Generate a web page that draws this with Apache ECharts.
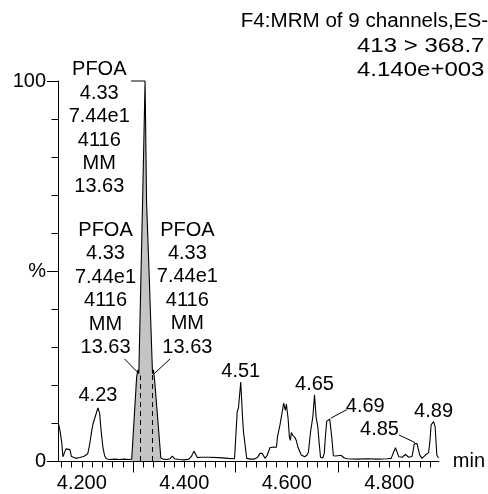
<!DOCTYPE html>
<html><head><meta charset="utf-8">
<script src="https://cdn.jsdelivr.net/npm/echarts@6/dist/echarts.min.js"></script>
<style>html,body{margin:0;padding:0;background:#fff}#c{width:488px;height:494px}</style>
</head><body><div id="c"></div>
<script>
// ---- data ----
const times = [4.1541,4.1574,4.1607,4.1632,4.1661,4.1690,4.1729,4.1768,4.1797,4.1826,4.1884,4.1961,4.2039,4.2077,4.2116,4.2135,4.2155,4.2194,4.2219,4.2252,4.2281,4.2315,4.2348,4.2377,4.2412,4.2445,4.2478,4.2542,4.2639,4.2735,4.2832,4.2929,4.2974,4.3070,4.3094,4.3113,4.3136,4.3186,4.3235,4.3264,4.3316,4.3380,4.3399,4.3423,4.3543,4.3587,4.3664,4.3723,4.3767,4.3810,4.3897,4.3993,4.4090,4.4139,4.4187,4.4226,4.4255,4.4322,4.4477,4.4671,4.4864,4.4981,4.4994,4.5033,4.5058,4.5102,4.5135,4.5155,4.5188,4.5219,4.5290,4.5368,4.5426,4.5478,4.5522,4.5575,4.5619,4.5671,4.5735,4.5774,4.5799,4.5819,4.5865,4.5896,4.5939,4.5973,4.5993,4.6026,4.6051,4.6070,4.6090,4.6113,4.6155,4.6186,4.6219,4.6283,4.6349,4.6393,4.6422,4.6465,4.6510,4.6542,4.6573,4.6606,4.6631,4.6659,4.6703,4.6732,4.6755,4.6780,4.6800,4.6839,4.6858,4.6877,4.6910,4.6955,4.6993,4.7057,4.7123,4.7187,4.7380,4.7574,4.7767,4.7961,4.8038,4.8091,4.8122,4.8155,4.8187,4.8251,4.8315,4.8381,4.8445,4.8470,4.8489,4.8542,4.8574,4.8594,4.8638,4.8702,4.8768,4.8793,4.8818,4.8865,4.8896,4.8929,4.8962];
const intensities = [10,8,5,1.1,1.0,3.2,3.4,3.0,1.2,0.8,0.7,0.9,1.2,1.6,1.9,1.5,4.5,8,9.8,10.2,12.5,14,12.6,8,3.6,1.4,0.6,0.4,0.5,0.4,0.5,0.4,0.5,22,24,23,22.5,68,100,68,48.5,23,24,21,0.8,0.5,0.4,0.6,1.3,0.6,0.4,0.3,0.5,1.2,2.6,2.2,0.9,1.0,1.0,0.9,0.7,0.6,0.8,13,14,20.8,12,7.7,7.5,0.7,0.5,0.5,0.9,2.0,2.0,0.7,1.5,3.5,3.7,3.9,3.6,6.4,9.3,11.7,15.2,13.3,15,11.2,6.4,5.4,7.5,6.8,6.3,5.4,3.6,1.6,1.1,1.5,2.3,7.7,11.7,17.4,11.5,9,5,1.0,0.8,2,6.5,10.5,10.8,11,10.5,6.5,1.4,1.3,1.1,1.5,0.8,0.6,0.5,0.6,0.5,0.6,0.7,2.5,3.5,3.4,1.1,1.0,1.7,1.0,1.2,3,4.5,4.6,4.5,1.6,0.7,1.5,2.2,5,9.5,10.4,9,1.6,0.8];

const integrationStart = 4.2974;
const integrationEnd = 4.3543;
const markerTimes = [4.3136, 4.3380];
const markerValues = [22.5, 23];

const peakLabelTimes = [4.2315, 4.5102, 4.6542, 4.6839, 4.8542, 4.8865];
const peakLabelValues = [14, 20.8, 17.4, 11, 4.6, 10.4];
const peakLabelTexts = ['4.23', '4.51', '4.65', '4.69', '4.85', '4.89'];

const stackAnchorTimes = [4.3235, 4.3113, 4.3416];
const stackAnchorValues = [100, 23, 23];
const stackLines = ['PFOA', '4.33', '7.44e1', '4116', 'MM', '13.63'];

const titleLines = ['F4:MRM of 9 channels,ES-', '413 > 368.7', '4.140e+003'];

const xMinorTicks = [4.16,4.18,4.20,4.22,4.24,4.26,4.28,4.30,4.32,4.34,4.36,4.38,4.40,4.42,4.44,4.46,4.48,4.50,4.52,4.54,4.56,4.58,4.60,4.62,4.64,4.66,4.68,4.70,4.72,4.74,4.76,4.78,4.80,4.82,4.84,4.86,4.88];
const xMajorTicks = [4.3, 4.5, 4.7];
const xLabelValues = [4.2, 4.4, 4.6, 4.8];
const yLabelValues = [0, 50, 100];
const yLabelTexts = ['0', '%', '100'];
const xRange = [4.15355, 4.8967];

// ---- styling / layout ----
const FONT = '"Liberation Sans", Arial, Helvetica, sans-serif';
const FS = 20;
const LH = 23.4;
const peakLabelOffsets = [[0,-12],[0,-10.4],[0,-10.3],[35.5,-12.5],[-37.5,-13.8],[0,-10.4]];
const peakLeaders = {3: [[1,-1],[17,-9.5]], 4: [[-2,-1],[-18,-8.5]]};
const stackOffsets = [[-45.8,47.3],[-33.3,-84.7],[33,-85]];
const stackLeaders = [[[-14,0],[0,0]], [[-14.3,-14.7],[0,0]], [[15.7,-14.7],[0,0]]];
// title line placement: [x, y(center), align, scaleX]
const titleLayout = [[488, 21, 'right', 1.03], [357, 46, 'left', 1.2], [357, 70, 'left', 1.2]];

const trace = times.map((t, i) => [t, intensities[i]]);
const peakArea = trace.filter(p => p[0] >= integrationStart && p[0] <= integrationEnd);

const chart = echarts.init(document.getElementById('c'), null, {renderer: 'canvas'});
const option = {
  animation: false,
  backgroundColor: '#fff',
  grid: {left: 58, right: 46, top: 81, bottom: 33},
  xAxis: [{
    type: 'value', min: xRange[0], max: xRange[1],
    axisLine: {show: true, lineStyle: {color: '#000', width: 1}},
    axisTick: {show: true, length: 6.5, customValues: xMinorTicks, lineStyle: {color: '#000', width: 1}},
    axisLabel: {show: true, customValues: xLabelValues, formatter: v => v.toFixed(3), fontSize: FS, fontFamily: FONT, color: '#000', margin: 12},
    splitLine: {show: false},
    name: 'min', nameLocation: 'end', nameGap: 14,
    nameTextStyle: {fontSize: FS, fontFamily: FONT, color: '#000', verticalAlign: 'middle', padding: [2, 0, 0, 0]}
  }, {
    type: 'value', min: xRange[0], max: xRange[1], position: 'bottom',
    axisLine: {show: false},
    axisTick: {show: true, length: 11.5, customValues: xMajorTicks, lineStyle: {color: '#000', width: 1}},
    axisLabel: {show: false}, splitLine: {show: false}
  }],
  yAxis: [{
    type: 'value', min: 0, max: 100, interval: 10, position: 'left',
    axisLine: {show: true, lineStyle: {color: '#000', width: 1}},
    axisTick: {show: true, length: 6.5, lineStyle: {color: '#000', width: 1}},
    axisLabel: {show: false}, splitLine: {show: false}
  }, {
    type: 'value', min: 0, max: 100, interval: 50, position: 'left', offset: 0,
    axisLine: {show: false},
    axisTick: {show: true, length: 11, lineStyle: {color: '#000', width: 1}},
    axisLabel: {show: true, fontSize: FS, fontFamily: FONT, color: '#000', margin: 12,
      formatter: v => yLabelTexts[yLabelValues.indexOf(v)]},
    splitLine: {show: false}
  }],
  series: [{
    type: 'line', data: peakArea, symbol: 'none', xAxisIndex: 0, yAxisIndex: 0,
    lineStyle: {width: 0}, areaStyle: {color: '#c4c4c4', opacity: 1}, z: 1, silent: true
  }, {
    type: 'line', data: trace, symbol: 'none', xAxisIndex: 0, yAxisIndex: 0,
    lineStyle: {color: '#000', width: 1.1}, z: 3, silent: true,
    markLine: {
      silent: true, symbol: ['none', 'none'], label: {show: false},
      lineStyle: {color: '#000', width: 1, type: [5, 4]},
      data: markerTimes.map((t, i) => [{coord: [t, 0]}, {coord: [t, markerValues[i]]}])
    }
  }]
};
chart.setOption(option);

function txt(x, y, text, align, sx) {
  return {type: 'text', x: x, y: y, scaleX: sx || 1, originX: 0, originY: 0, silent: true, z: 10,
    style: {text: text, fill: '#000', fontSize: FS, fontFamily: FONT, lineHeight: LH,
      align: align, textAlign: align, verticalAlign: 'middle', textVerticalAlign: 'middle'}};
}
function seg(a, b) {
  return {type: 'line', silent: true, z: 10,
    shape: {x1: a[0], y1: a[1], x2: b[0], y2: b[1]}, style: {stroke: '#000', lineWidth: 1}};
}
const toPx = (t, v) => chart.convertToPixel({xAxisIndex: 0, yAxisIndex: 0}, [t, v]);
const g = [];
peakLabelTimes.forEach((t, i) => {
  const p = toPx(t, peakLabelValues[i]);
  const o = peakLabelOffsets[i];
  g.push(txt(p[0] + o[0], p[1] + o[1], peakLabelTexts[i], 'center'));
  if (peakLeaders[i]) {
    const L = peakLeaders[i];
    g.push(seg([p[0] + L[0][0], p[1] + L[0][1]], [p[0] + L[1][0], p[1] + L[1][1]]));
  }
});
stackAnchorTimes.forEach((t, i) => {
  const p = toPx(t, stackAnchorValues[i]);
  const o = stackOffsets[i];
  g.push(txt(p[0] + o[0], p[1] + o[1], stackLines.join('\n'), 'center'));
  const L = stackLeaders[i];
  g.push(seg([p[0] + L[0][0], p[1] + L[0][1]], [p[0] + L[1][0], p[1] + L[1][1]]));
});
titleLines.forEach((s, i) => {
  const L = titleLayout[i];
  g.push(txt(L[0], L[1], s, L[2], L[3]));
});
chart.setOption({graphic: {elements: g}});
</script></body></html>
